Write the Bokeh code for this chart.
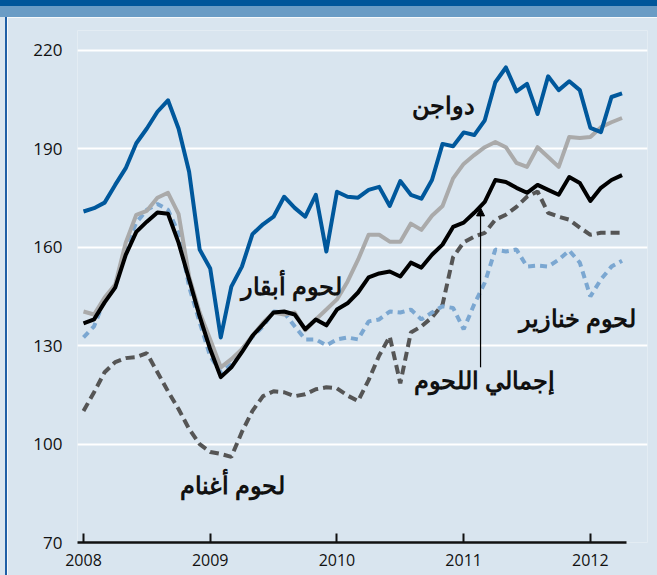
from bokeh.plotting import figure
from bokeh.models import ColumnDataSource, FixedTicker, Range1d, Arrow, NormalHead, Div, LabelSet
from bokeh.layouts import column, row
from bokeh.embed import file_html
from bokeh.resources import INLINE

# Monthly index: 0 = Jan 2008 ... 51 = Apr 2012
months = list(range(52))

poultry = [170.9, 171.9, 173.6, 179.0, 184.1, 191.7, 196.2, 201.3, 204.8, 196.2, 183.0, 159.3,
           153.5, 132.5, 148.0, 154.1, 164.0, 167.0, 169.3, 175.4, 172.0, 169.3, 176.0, 158.7,
           176.9, 175.4, 175.1, 177.5, 178.4, 172.6, 180.2, 176.0, 174.8, 180.5, 191.5, 190.8,
           195.0, 194.2, 198.7, 210.3, 214.8, 207.5, 209.8, 200.6, 212.1, 207.9, 210.6, 207.9,
           196.4, 195.1, 205.8, 206.9]

beef = [140.4, 139.5, 144.7, 148.6, 161.4, 169.9, 171.1, 175.1, 176.6, 170.2, 151.1, 140.1,
        131.9, 123.4, 125.9, 128.9, 133.0, 137.0, 140.1, 139.5, 140.1, 134.7, 138.0, 141.0,
        144.1, 149.5, 156.2, 163.8, 163.8, 161.7, 161.7, 167.2, 165.3, 169.6, 172.6, 181.0,
        185.4, 188.1, 190.5, 192.1, 190.5, 185.7, 184.5, 190.5, 187.5, 184.5, 193.6, 193.3,
        193.6, 196.6, 198.1, 199.4]

total = [136.8, 138.0, 143.2, 147.7, 157.7, 164.7, 167.8, 170.6, 170.2, 161.4, 150.2, 138.9,
         128.9, 120.4, 123.4, 128.0, 133.0, 136.5, 140.1, 140.4, 139.5, 135.0, 138.0, 136.2,
         141.0, 142.9, 146.2, 150.8, 152.0, 152.6, 151.1, 155.3, 153.8, 157.7, 160.8, 166.2,
         167.5, 170.5, 173.8, 180.5, 179.9, 178.1, 176.6, 179.0, 177.5, 176.0, 181.4, 179.6,
         174.1, 178.1, 180.5, 182.0]

pork = [132.5, 135.9, 144.1, 148.0, 160.2, 167.5, 171.4, 173.2, 171.4, 164.4, 148.0, 137.1,
        126.8, 121.9, 124.3, 128.9, 132.7, 135.9, 140.4, 140.1, 135.9, 131.9, 131.9, 130.1,
        131.9, 132.5, 131.9, 137.4, 138.0, 140.4, 140.1, 141.0, 138.0, 140.1, 142.0, 141.5,
        135.0, 142.6, 149.2, 159.3, 158.7, 159.3, 154.1, 154.4, 154.1, 156.2, 159.0, 155.3,
        145.0, 150.2, 154.1, 155.9]

sheep = [110.1, 115.8, 121.9, 125.0, 126.2, 126.5, 127.7, 121.9, 116.1, 110.7, 104.6, 100.0,
         97.6, 97.0, 96.1, 103.7, 110.1, 114.6, 116.1, 115.8, 114.6, 115.2, 116.7, 117.3,
         117.0, 114.8, 113.1, 119.5, 127.0, 132.8, 118.5, 134.0, 135.9, 138.6, 142.5, 157.0,
         161.5, 163.2, 164.4, 168.4, 169.9, 172.3, 175.4, 177.0, 170.5, 169.3, 168.4, 166.0,
         163.8, 164.4, 164.4, 164.4]

year_ticks = [0, 12, 24, 36, 48]
year_labels = ["2008", "2009", "2010", "2011", "2012"]
y_ticks = [70, 100, 130, 160, 190, 220]

label_text = ["دواجن", "لحوم أبقار", "لحوم أغنام", "لحوم خنازير", "إجمالي اللحوم"]
label_x = [34.1, 19.7, 14.1, 46.8, 38.0]
label_y = [203.0, 148.0, 87.2, 138.0, 119.1]

BG = "#d9e5ef"
X0, X1 = -0.568, 51.42   # extent of the gridlines / axis line

src = ColumnDataSource(dict(m=months, poultry=poultry, beef=beef, total=total, pork=pork, sheep=sheep))

p = figure(width=650, height=558,
           x_range=Range1d(X0, 53.41), y_range=Range1d(70, 226.07),
           output_backend="svg", toolbar_location=None,
           min_border_left=70, min_border_right=10, min_border_top=13, min_border_bottom=33)
p.background_fill_color = BG
p.border_fill_color = BG
p.outline_line_color = None

p.xgrid.visible = False
p.ygrid.ticker = FixedTicker(ticks=y_ticks)
p.ygrid.bounds = (X0, X1)
p.ygrid.grid_line_color = "white"
p.ygrid.grid_line_width = 2

p.yaxis.ticker = FixedTicker(ticks=y_ticks)
p.yaxis.axis_line_color = None
p.yaxis.major_tick_line_color = None
p.yaxis.minor_tick_line_color = None
p.yaxis.major_label_standoff = 9
p.yaxis.major_label_text_font = "Open Sans"
p.yaxis.major_label_text_font_size = "17px"
p.yaxis.major_label_text_color = "#111111"

p.xaxis.ticker = FixedTicker(ticks=year_ticks)
p.xaxis.bounds = (X0, X1)
p.xaxis.major_label_overrides = {t: l for t, l in zip(year_ticks, year_labels)}
p.xaxis.axis_line_color = "#111111"
p.xaxis.axis_line_width = 2.5
p.xaxis.major_tick_line_color = "#111111"
p.xaxis.major_tick_line_width = 2
p.xaxis.major_tick_in = 9
p.xaxis.major_tick_out = 0
p.xaxis.minor_tick_line_color = None
p.xaxis.major_label_standoff = 11
p.xaxis.major_label_text_font = "Open Sans"
p.xaxis.major_label_text_font_size = "16px"
p.xaxis.major_label_text_color = "#111111"

p.line("m", "sheep", source=src, line_color="#555555", line_width=4, line_dash="9 5")
p.line("m", "pork", source=src, line_color="#7ba7d1", line_width=4, line_dash="7 5")
p.line("m", "beef", source=src, line_color="#aaaaaa", line_width=4, line_join="round")
p.line("m", "poultry", source=src, line_color="#00589c", line_width=4, line_join="round")
p.line("m", "total", source=src, line_color="#000000", line_width=4, line_join="round")

p.add_layout(Arrow(x_start=37.6, y_start=123.4, x_end=37.6, y_end=172.0,
                   line_color="black", line_width=1.2,
                   end=NormalHead(size=8, fill_color="black", line_color="black", line_width=1)))

lsrc = ColumnDataSource(dict(x=label_x, y=label_y, t=label_text))
p.add_layout(LabelSet(x="x", y="y", text="t", source=lsrc, text_font="DejaVu Sans",
                      text_font_size="24px", text_font_style="bold", text_align="center",
                      text_baseline="middle", text_color="#111111"))

dark = Div(width=657, height=6, margin=0, styles={"background-color": "#00569a"})
mid = Div(width=657, height=11, margin=0, styles={"background-color": "#6a9cc5"})
gap = Div(width=5, height=558, margin=0, styles={"background-color": BG})
border = Div(width=2, height=558, margin=0, styles={"background-color": "#1f5fa6"})

layout = column(dark, mid, row(gap, border, p, spacing=0), spacing=0)

open("out.html", "w").write(file_html(layout, INLINE))
